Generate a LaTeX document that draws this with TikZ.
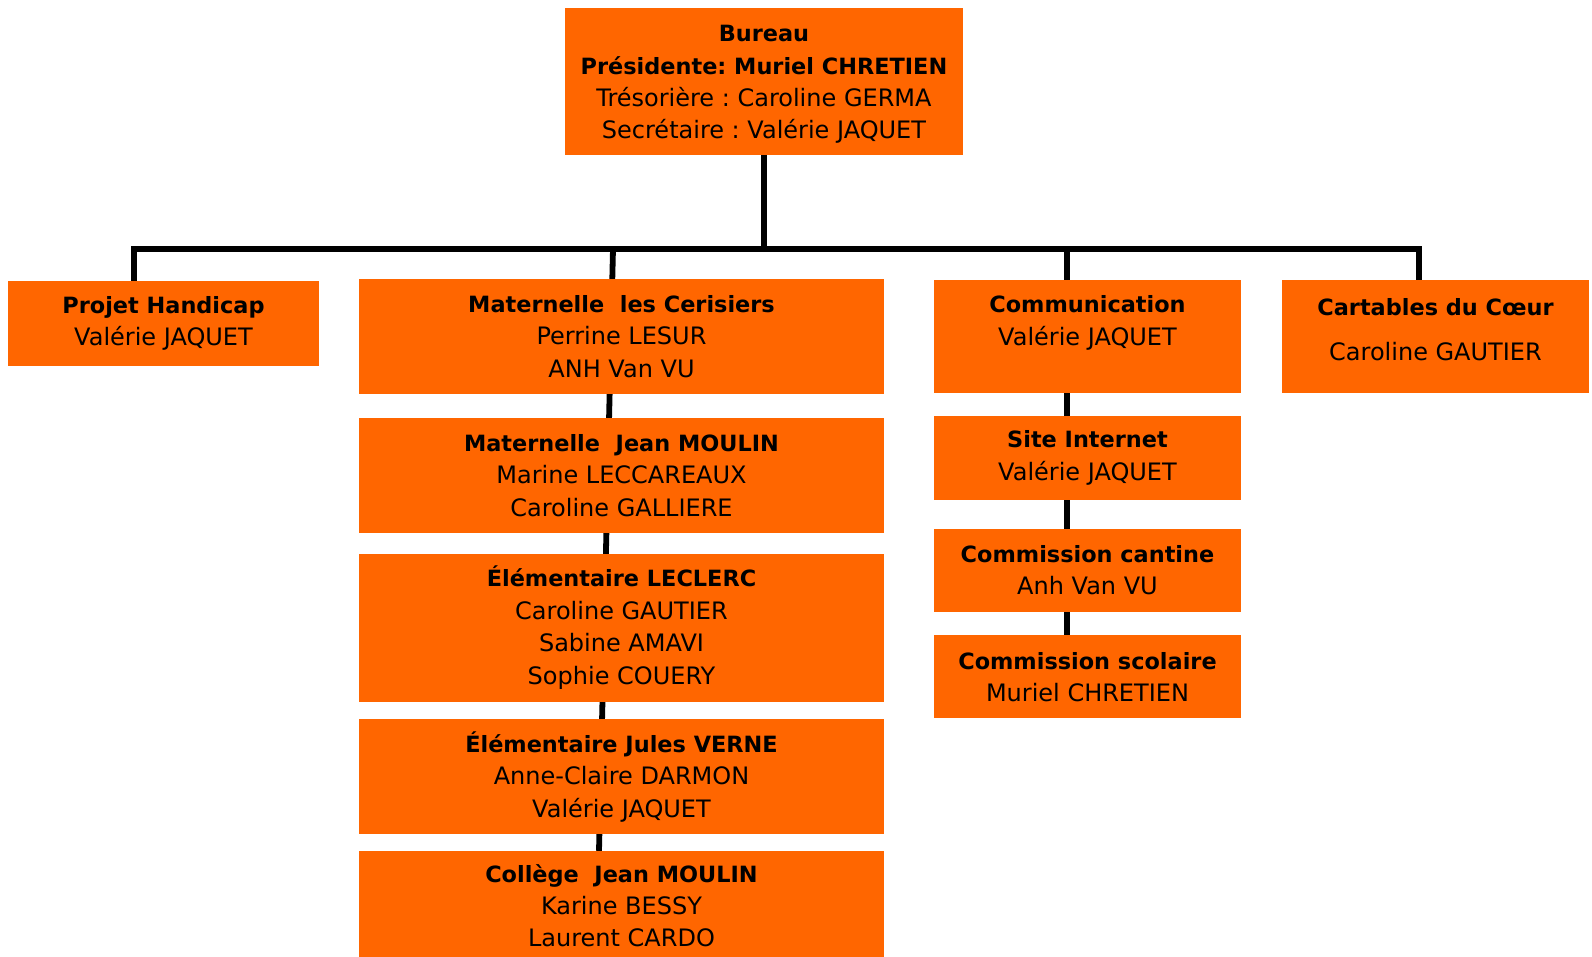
\documentclass[tikz,border=0pt]{standalone}
\usepackage{fontspec}
\setmainfont{DejaVu Sans}
\usetikzlibrary{positioning, backgrounds}
\definecolor{boxorange}{RGB}{255,102,0}
\newcommand{\hd}[1]{{\bfseries\fontsize{11.2}{16.2}\selectfont #1}}
\frenchspacing

\begin{document}
\begin{tikzpicture}[
x=0.5pt, y=-0.5pt,
texts/.style = {text=black, font=\fontsize{12}{16.2}\selectfont},
orgline/.style = {draw=black, line width=2.9pt},
orgbox/.style = {texts, fill=boxorange, align=center, inner sep=0pt},
topbox/.style = {orgbox, minimum width=199pt, minimum height=73.5pt},
sidebox/.style = {orgbox, minimum width=155.5pt, minimum height=42.5pt},
schoolbox/.style = {orgbox, minimum width=262.5pt, minimum height=#1},
commbox/.style = {orgbox, minimum width=153.5pt, minimum height=#1}
]
\useasboundingbox (0,0) rectangle (1592,957);

\node[topbox] (bureau) at (764,81.5)
	{\mbox{}\\[-5pt]\hd{Bureau}\\\hd{Présidente: Muriel CHRETIEN}\\Trésorière : Caroline GERMA\\Secrétaire : Valérie JAQUET};

\node[sidebox] (handicap) at (163.5,323.5) {\hd{Projet Handicap}\\Valérie JAQUET};

% schools
\node[schoolbox=57.5pt] (cerisiers) at (621.5,336.5)
	{\hd{Maternelle\ \ les Cerisiers}\\Perrine LESUR\\ANH Van VU};
\node[schoolbox=57.5pt, below=11.5pt of cerisiers] (matmoulin)
	{\hd{Maternelle\ \ Jean MOULIN}\\Marine LECCAREAUX\\Caroline GALLIERE};
\node[schoolbox=74pt, below=10pt of matmoulin] (leclerc)
	{\hd{Élémentaire LECLERC}\\Caroline GAUTIER\\Sabine AMAVI\\Sophie COUERY};
\node[schoolbox=57.5pt, below=8.5pt of leclerc] (verne)
	{\hd{Élémentaire Jules VERNE}\\Anne-Claire DARMON\\Valérie JAQUET};
\node[schoolbox=54.5pt, below=8pt of verne] (college)
	{\hd{Collège\ \ Jean MOULIN}\\Karine BESSY\\Laurent CARDO};

% communication
\node[commbox=56.5pt] (communication) at (1087.5,336.5)
	{\hd{Communication}\\Valérie JAQUET\\\mbox{}};
\node[commbox=42pt, below=11pt of communication] (internet)
	{\hd{Site Internet}\\Valérie JAQUET};
\node[commbox=41.5pt, below=14pt of internet] (cantine)
	{\hd{Commission cantine}\\Anh Van VU};
\node[commbox=41.5pt, below=11.5pt of cantine] (scolaire)
	{\hd{Commission scolaire}\\Muriel CHRETIEN};

\node[commbox=56.5pt] (cartables) at (1435.5,336.5)
	{\hd{Cartables du Cœur}\\[6.4pt]Caroline GAUTIER\\[-9.2pt]\mbox{}};

\coordinate (busL) at (134,249);
\coordinate (busR) at (1419,249);
\coordinate (matdrop) at (613,249);
\coordinate (comdrop) at (1067,249);

\draw[orgline] (bureau.south) -- (bureau.south |- busL);
\draw[orgline, line join=miter] (handicap.north -| busL) -- (busL) -- (busR) -- (cartables.north -| busR);
\begin{scope}[on background layer]
\draw[orgline] (matdrop) -- ([xshift=-11.25pt]college.north);
\draw[orgline] (comdrop) -- (comdrop |- scolaire.north);
\end{scope}
\end{tikzpicture}
\end{document}
